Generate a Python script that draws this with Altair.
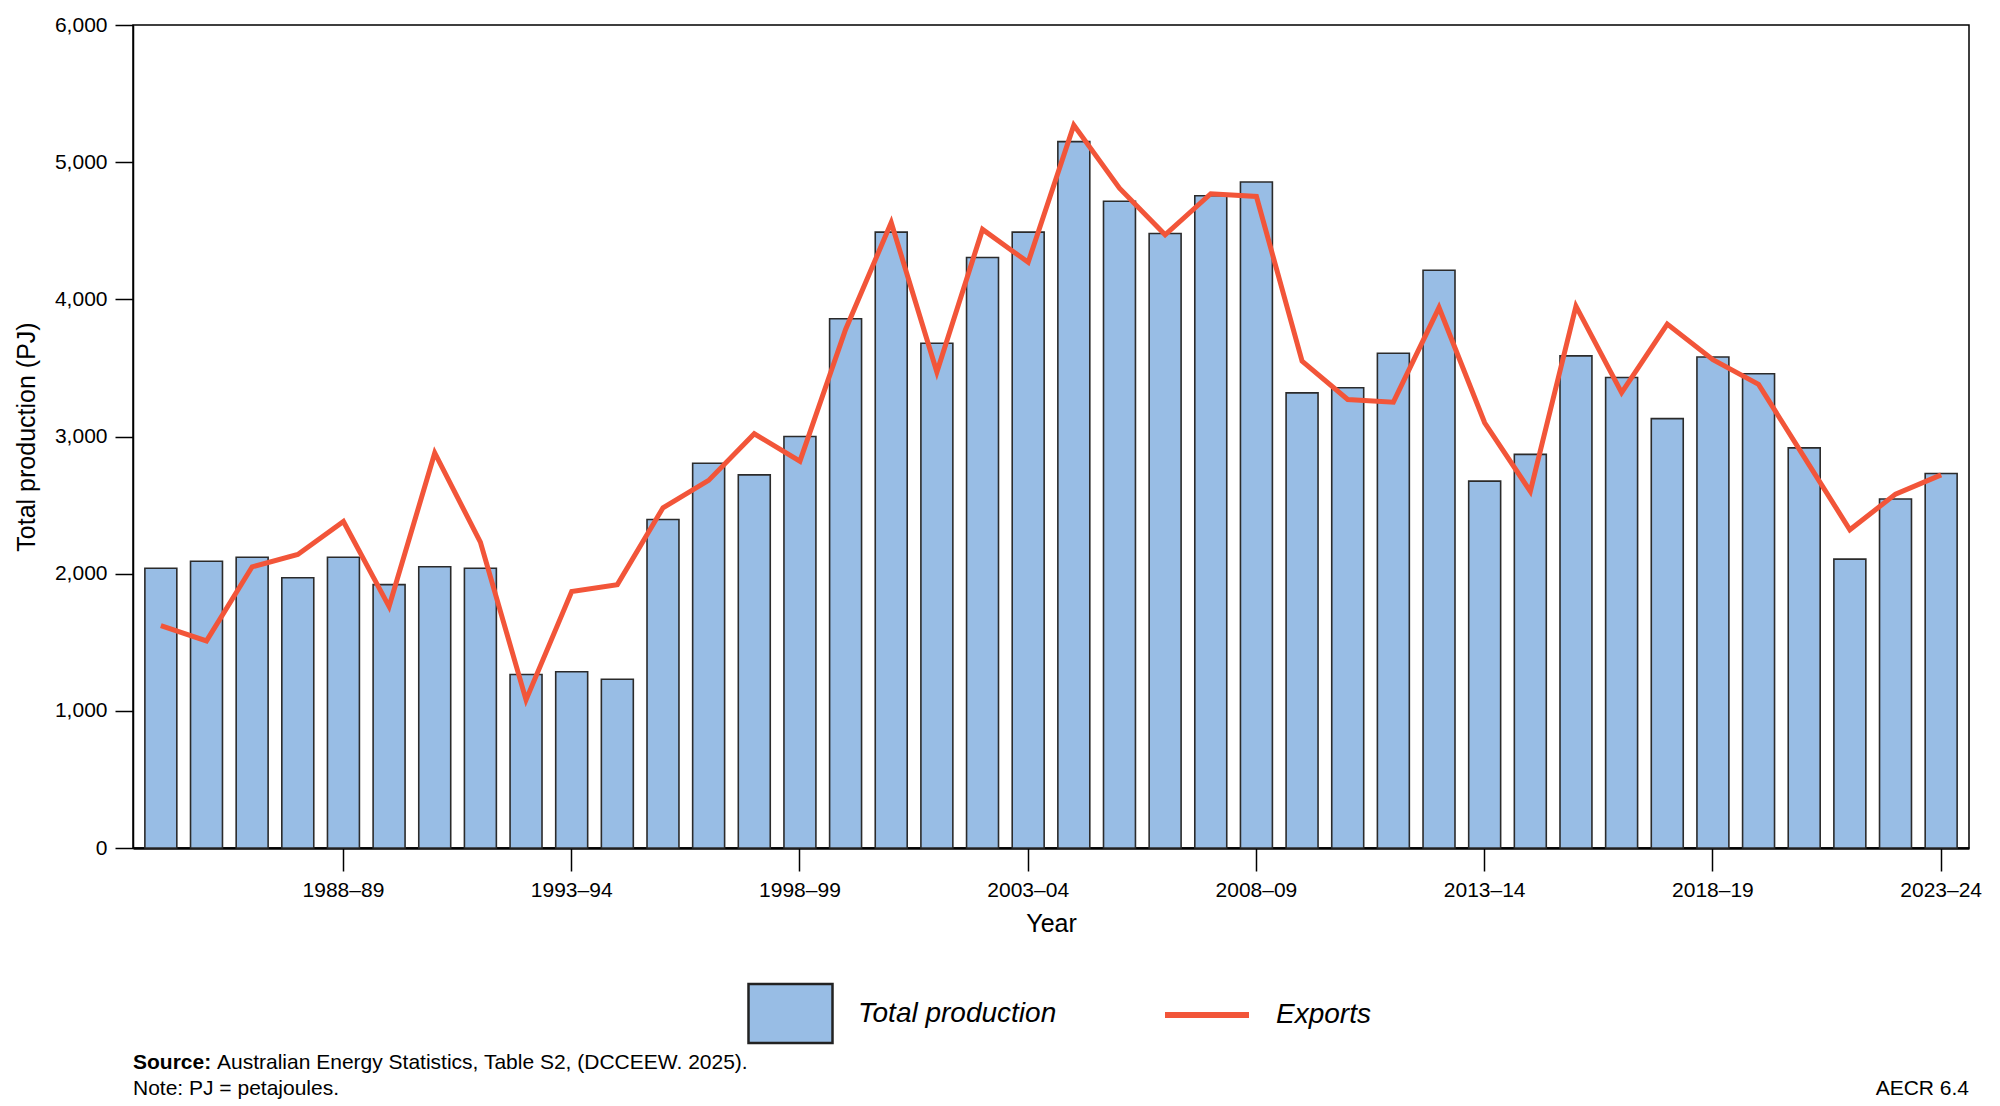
import pandas as pd
import altair as alt

# Financial years 1984–85 to 2023–24
years = [f"{y}–{str(y + 1)[-2:]}" for y in range(1984, 2024)]
tick_years = ["1988–89", "1993–94", "1998–99", "2003–04", "2008–09", "2013–14", "2018–19", "2023–24"]

production = [
    2040, 2090, 2120, 1970, 2120, 1920, 2050, 2040, 1265, 1285,
    1230, 2395, 2805, 2720, 3000, 3858, 4490, 3680, 4305, 4490,
    5150, 4715, 4480, 4755, 4855, 3318, 3355, 3607, 4212, 2675,
    2870, 3588, 3430, 3130, 3580, 3458, 2917, 2106, 2544, 2730,
]
exports = [
    1622, 1510, 2050, 2140, 2380, 1760, 2880, 2230, 1080, 1870,
    1920, 2480, 2680, 3020, 2820, 3780, 4560, 3470, 4510, 4270,
    5270, 4810, 4470, 4770, 4750, 3550, 3270, 3250, 3940, 3100,
    2600, 3950, 3320, 3820, 3560, 3380, 2850, 2320, 2580, 2720,
]

bar_fill = "#98BDE5"
line_red = "#F25539"

df = pd.concat([
    pd.DataFrame({"Year": years, "PJ": production, "Series": "Total production"}),
    pd.DataFrame({"Year": years, "PJ": exports, "Series": "Exports"}),
])

W, H = 1836, 823
FONT = "Liberation Sans, Arial, Helvetica, sans-serif"

x_enc = alt.X(
    "Year:N", sort=years, title="Year",
    scale=alt.Scale(paddingInner=0.3, paddingOuter=0.26),
    axis=alt.Axis(values=tick_years, labelAngle=0, tickSize=23, labelPadding=8,
                  titlePadding=11, domainWidth=2.5, tickWidth=1.5),
)
y_enc = alt.Y(
    "PJ:Q", title="Total production (PJ)",
    scale=alt.Scale(domain=[0, 6000], nice=False),
    axis=alt.Axis(values=[0, 1000, 2000, 3000, 4000, 5000, 6000], format=",.0f",
                  tickSize=18, labelPadding=8, titlePadding=15, grid=False,
                  domainWidth=1.5, tickWidth=1.5),
)

legend_common = dict(
    title=None, orient="none", legendY=945, direction="horizontal",
    symbolSize=84 * 84, labelFontSize=28, labelFontStyle="italic", labelLimit=400,
    labelOffset=24, labelColor="black", symbolOpacity=1,
)

bars = (
    alt.Chart(df)
    .transform_filter(alt.datum.Series == "Total production")
    .mark_bar(stroke="#2b2b2b", strokeWidth=1.6, opacity=1)
    .encode(
        x=x_enc, y=y_enc,
        fill=alt.Fill(
            "Series:N",
            scale=alt.Scale(domain=["Total production"], range=[bar_fill]),
            legend=alt.Legend(
                legendX=614, symbolType="M-1,-0.7H1V0.7H-1Z",
                symbolStrokeColor="#222222", symbolStrokeWidth=2.5,
                **legend_common,
            ),
        ),
    )
)
line = (
    alt.Chart(df)
    .transform_filter(alt.datum.Series == "Exports")
    .mark_line(strokeWidth=5, strokeJoin="miter")
    .encode(
        x=x_enc, y=y_enc,
        stroke=alt.Stroke(
            "Series:N",
            scale=alt.Scale(domain=["Exports"], range=[line_red]),
            legend=alt.Legend(
                legendX=1029, symbolType="stroke", symbolStrokeWidth=6,
                **legend_common,
            ),
        ),
    )
)

notes = pd.DataFrame({"t": [0]})
src_bold = alt.Chart(notes).mark_text(
    text="Source:", fontWeight="bold", fontSize=21, align="left", baseline="middle", font=FONT
).encode(x=alt.value(0), y=alt.value(1038))
src_text = alt.Chart(notes).mark_text(
    text="Australian Energy Statistics, Table S2, (DCCEEW. 2025).", fontSize=21,
    align="left", baseline="middle", font=FONT
).encode(x=alt.value(84), y=alt.value(1038))
note_text = alt.Chart(notes).mark_text(
    text="Note: PJ = petajoules.", fontSize=21, align="left", baseline="middle", font=FONT
).encode(x=alt.value(0), y=alt.value(1064))
ref_text = alt.Chart(notes).mark_text(
    text="AECR 6.4", fontSize=21, align="right", baseline="middle", font=FONT
).encode(x=alt.value(W), y=alt.value(1064))

chart = (
    alt.layer(bars, line, src_bold, src_text, note_text, ref_text)
    .resolve_scale(fill="independent", stroke="independent")
    .properties(width=W, height=H, padding={"left": 6, "top": 6, "right": 5, "bottom": 5})
    .configure(font=FONT)
    .configure_view(stroke="black", strokeWidth=1.5)
    .configure_axis(
        labelFontSize=21, titleFontSize=25, titleFontWeight="normal",
        labelColor="black", titleColor="black", domainColor="black", tickColor="black",
        labelFont=FONT, titleFont=FONT,
    )
    .configure_legend(labelFont=FONT)
)

chart.save("out.html", embed_options={"renderer": "svg", "actions": False})
